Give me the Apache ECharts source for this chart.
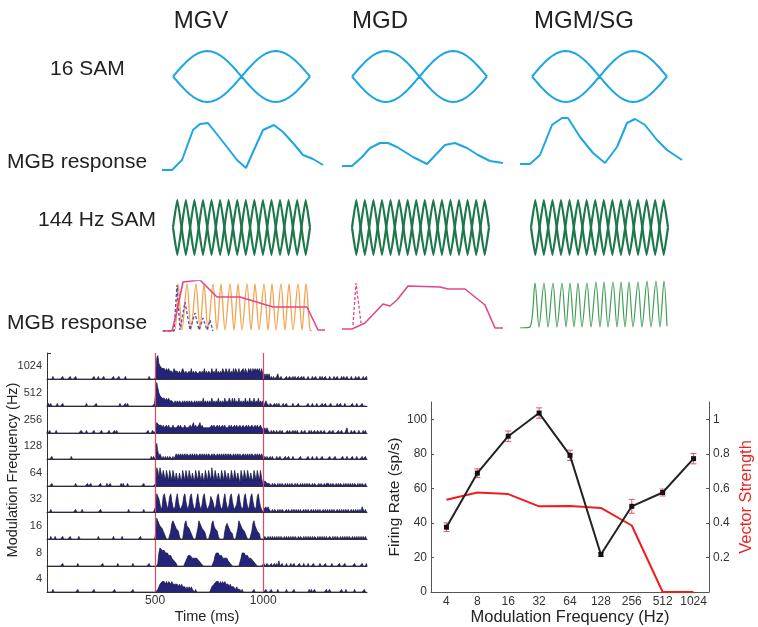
<!DOCTYPE html>
<html><head><meta charset="utf-8">
<script src="https://cdn.jsdelivr.net/npm/echarts@6/dist/echarts.min.js"></script>
<style>html,body{margin:0;padding:0;background:#fff}#c{width:758px;height:627px}</style>
</head><body><div id="c"></div>
<script>
// ---------- labels ----------
const columnTitles = ['MGV', 'MGD', 'MGM/SG'];
const rowLabels = ['16 SAM', 'MGB response', '144 Hz SAM', 'MGB response'];
const modFreqs = ['4', '8', '16', '32', '64', '128', '256', '512', '1024'];

// ---------- schematic waveforms ----------
const sam16Env = [0,.195,.383,.556,.707,.831,.924,.981,1,.981,.924,.831,.707,.556,.383,.195,0,
                  .195,.383,.556,.707,.831,.924,.981,1,.981,.924,.831,.707,.556,.383,.195,0];
const sam16EnvLow = [0,-.195,-.383,-.556,-.707,-.831,-.924,-.981,-1,-.981,-.924,-.831,-.707,-.556,-.383,-.195,0,
                  -.195,-.383,-.556,-.707,-.831,-.924,-.981,-1,-.981,-.924,-.831,-.707,-.556,-.383,-.195,0];
const sam144A = [[0,0],[0.5,1],[1.5,-1],[2.5,1],[3.5,-1],[4.5,1],[5.5,-1],[6.5,1],[7.5,-1],[8.5,1],[9.5,-1],[10.5,1],[11.5,-1],[12.5,1],[13.5,-1],[14.5,1],[15.5,-1],[16,0]];
const sam144B = [[0,0],[0.5,-1],[1.5,1],[2.5,-1],[3.5,1],[4.5,-1],[5.5,1],[6.5,-1],[7.5,1],[8.5,-1],[9.5,1],[10.5,-1],[11.5,1],[12.5,-1],[13.5,1],[14.5,-1],[15.5,1],[16,0]];
const resp16MGV = [[0,0],[10,0],[20,10],[31,40],[38,46],[46,47],[65,23],[75,10],[84,2],[91,18],[101,40],[112,45],[121,38],[131,27],[141,15],[151,11],[161,5]];
const resp16MGD = [[0,0],[10,0],[20,9],[28,18],[38,23],[46,23],[55,19],[71,9],[85,2],[103,21],[113,23],[125,18],[136,11],[148,5],[161,3]];
const resp16MGM = [[0,0],[10,0],[20,9],[32,39],[42,46],[48,46],[60,27],[73,11],[85,1],[97,17],[107,41],[115,45],[125,39],[137,24],[147,14],[162,4]];
const resp144MGVcycle = [[0,0],[12,0],[16,47],[20,1],[25,47],[29,1],[34,47],[38,1],[42,47],[46,1],[51,47],[55,1],[59,47],[63,1],[68,47],[72,1],[76,47],[80,1],[85,47],[89,1],[93,47],[97,1],[102,47],[106,1],[110,47],[114,1],[119,47],[123,1],[127,47],[131,1],[136,47],[140,1],[144,47],[148,1],[150,0]];
const resp144MGVrate = [[1,0],[10,0],[14,16],[21,49],[38,51],[55,34],[78,34],[111,24],[145,24],[156,1],[163,1]];
const resp144MGVonset = [[1,0],[12,0],[15,46],[18,1],[23,29],[28,1],[33,18],[37,1],[41,13],[45,1],[48,11],[51,0]];
const resp144MGDrate = [[0,1],[10,1],[23,7],[41,26],[48,24],[55,30],[66,44],[98,43],[106,41],[123,41],[143,25],[153,2],[161,2]];
const resp144MGDonset = [[11,5],[14,47],[16,47],[19,7]];
const resp144MGM = [[0,0],[10,1],[15,45],[19,1],[24,45],[28,1],[33,45],[37,1],[42,45],[46,1],[50,45],[54,1],[58,45],[62,1],[67,45],[71,1],[76,46],[80,1],[84,46],[88,1],[93,46],[97,1],[101,46],[105,1],[109,46],[113,1],[118,46],[122,1],[127,47],[131,1],[136,47],[140,1],[144,47],[147,2]];

// ---------- PSTH rows: 5 ms bins, segments 0-500 / 500-1000 / 1000-1480 ms ----------
const psth1024 = [
 '0000010000 0000100000 0100001000 0000000000 0001000100 0010000000 0100001000 0010000000 0000000000 0000100000',
 '1896554443 4343332433 3232343232 2324232332 2323242323 3242324232 3243243242 3242432423 3424324342 4343434242',
 '0212120101 0012001000 0100100101 0010010100 0100010010 0010100100 0100010010 0010100100 0100010010 001001'];
const psth512 = [
 '0101000001 0000100000 0000000000 0000001000 0000010000 0000000000 0000000100 0010100000 0000000000 0000000001',
 '1975443332 3232222121 2122121212 1212212121 2121312121 2131212131 2121312132 1313121312 1213121312 1312131212',
 '0121101100 1010100010 0100000100 0010000000 0100010001 0000100100 0010000010 0100010000 0010001000 010000'];
const psth256 = [
 '1010000010 0000000000 0000000000 0110001000 0001000000 1000000100 0010100000 0000000000 0000000000 0001000110',
 '1443332322 3232223222 2323222322 2232242322 3423222222 2232322323 2232322232 3223232232 2322323223 3232322322',
 '1212110101 1010010100 0010100101 0100010010 0010100100 1001001000 0100100001 0010000200 0100100010 001010'];
const psth128 = [
 '0000100000 0000000000 0010000000 0000000000 0000000000 0000000000 0000000000 0000000000 0000000000 0000001010',
 '1631210101 0101101012 1212121212 2121212121 1212121212 2121221212 1212121212 2121212121 1212121212 2121212121',
 '0101001010 0010010000 1001000100 0000100000 0100010001 0000100000 0100001000 0001000100 0010001000 010010'];
const psth64 = [
 '0000100000 0000000000 0000001000 0000000100 1000000001 0000010010 0000000010 1000100000 0000000001 0000000000',
 '1763753642 6426426425 3253264264 2642532642 6425326426 4274264253 2642642532 6426425316 4264264253 2642642631',
 '0221111010 1101010110 1010101101 0110101010 1011010110 0101101011 1010110101 0110101010 1010110101 011010'];
const psth32 = [
 '0001000000 0000000000 0000001000 0010000000 0000000001 0000000000 0000000000 0000010000 0000000001 0000000000',
 '277531 267531 367421 2574211 367421 367421 257421 3674211 366421 367421 257421 3674211 367421 267421 367421 267421 0',
 '1121211010 1101010110 0101001010 1010100101 0100101010 1010010101 0101010010 1010101010 0101010101 021010'];
const psth16 = [
 '0001000100 0000100000 0100000001 0000000000 0000000100 0000000000 0100000001 0000000000 0000001000 0000000000',
 '2876554321000 036765443100 0367554321000 047654432000 0367544310000 035654332000 0476544321000 036754332000',
 '0110101010 1010101101 0101010101 1010110101 0101010110 1010101010 0110101011 0101010101 1010101010 101010'];
const psth8 = [
 '0000000000 0000100000 0000000010 0000000000 0000000000 0100000000 0000010000 0000000001 0000000000 0000100000',
 '001 57766655544433221 00000000 23444433333322110 000000000 24555444333332211 00000000 35554443333221100 0000',
 '1101100100 1010200100 0100010010 0001000100 0100001000 0010000100 0001000000 1000010000 0000100000 010001'];
const psth4 = [
 '0000010000 0000000000 0000000010 0000000000 0001000000 0000000000 0010000000 0000000001 0000000000 0000000000',
 '001 233444343443433333232322212121211 010000000000000 122334443434343332322221211 1010000000000100000000',
 '0010000100 0001000000 0100000010 0000000000 0010100100 0000000010 0100000000 0010001000 0000100000 000100'];
const psthRows = [psth1024, psth512, psth256, psth128, psth64, psth32, psth16, psth8, psth4];
const psthRowLabels = ['1024', '512', '256', '128', '64', '32', '16', '8', '4'];

// ---------- tuning curves ----------
const firingRate = [37.5, 68.8, 90.2, 103.6, 79.1, 21.7, 49.6, 57.6, 77.2];
const firingErr  = [2.5, 2.5, 3, 3, 3, 1.2, 4, 2, 3];
const vectorStrength = [0.534, 0.576, 0.567, 0.496, 0.498, 0.487, 0.385, 0, 0];

// ================= build =================
const FONT = 'Liberation Sans, Arial, Helvetica, sans-serif';
const grids = [], xAxes = [], yAxes = [], series = [];
function hiddenCell(g, xr, yr) {
  grids.push(g);
  const i = grids.length - 1;
  xAxes.push({gridIndex: i, type: 'value', show: false, min: xr[0], max: xr[1]});
  yAxes.push({gridIndex: i, type: 'value', show: false, min: yr[0], max: yr[1]});
  return i;
}
function line(i, data, color, width, extra) {
  series.push(Object.assign({type: 'line', xAxisIndex: i, yAxisIndex: i, data: data, symbol: 'none',
    lineStyle: {color: color, width: width}, silent: true}, extra || {}));
}
const BLUE = '#1ea6e2', DKGREEN = '#1c774a', LTGREEN = '#3f9c55', ORANGE = '#f5a24e', PINK = '#e2458a', PURPLE = '#5a4bb0';
const idx = a => a.map((v, k) => [k, v]);

// row 1: 16 SAM
[[173,137],[352,135],[532,135]].forEach(([l,w]) => {
  const i = hiddenCell({left: l, width: w, top: 51, height: 51}, [0, 32], [-1, 1]);
  line(i, idx(sam16Env), BLUE, 2);
  line(i, idx(sam16EnvLow), BLUE, 2);
});
// row 2: responses to 16 SAM
[[162,161,120,resp16MGV],[342,161,116,resp16MGD],[520,162,114,resp16MGM]].forEach(([l,w,t,d]) => {
  const i = hiddenCell({left: l, width: w, top: t, height: 50}, [0, w], [0, 50]);
  line(i, d, BLUE, 2);
});
// row 3: 144 Hz SAM
[[173,137],[352,137],[531,137]].forEach(([l,w]) => {
  const i = hiddenCell({left: l, width: w, top: 200, height: 55}, [0, 16], [-1, 1]);
  line(i, sam144A, DKGREEN, 2.2, {smooth: 0.12});
  line(i, sam144B, DKGREEN, 2.2, {smooth: 0.12});
});
// row 4: responses to 144 Hz SAM
{
  let i = hiddenCell({left: 162, width: 164, top: 281, height: 50}, [0, 164], [0, 50]);
  line(i, resp144MGVcycle, ORANGE, 1.3, {smooth: 0.3});
  line(i, resp144MGVonset, PURPLE, 1.3, {lineStyle: {color: PURPLE, width: 1.3, type: [3, 2]}});
  line(i, resp144MGVrate, PINK, 1.6);
  i = hiddenCell({left: 342, width: 161, top: 280, height: 50}, [0, 161], [0, 50]);
  line(i, resp144MGDonset, PINK, 1.3, {lineStyle: {color: PINK, width: 1.3, type: [3, 2]}});
  line(i, resp144MGDrate, PINK, 1.6);
  i = hiddenCell({left: 520, width: 150, top: 278, height: 50}, [0, 150], [0, 50]);
  line(i, resp144MGM, LTGREEN, 1.2, {smooth: 0.3});
}

// PSTH rows
function decode(row) {
  const out = [[0, 0]];
  const starts = [0, 500, 1000];
  row.forEach((seg, si) => {
    const s = seg.replace(/\s/g, '');
    for (let k = 0; k < s.length; k++) out.push([starts[si] + k * 5 + 2.5, +s[k]]);
  });
  out.push([1480, 0]);
  return out;
}
const rowBase = [379, 406, 433, 459, 486, 512, 539, 566, 592];
psthRows.forEach((row, r) => {
  grids.push({left: 47, width: 320, top: rowBase[r] - 26, height: 26});
  const i = grids.length - 1;
  const last = r === psthRows.length - 1;
  xAxes.push({gridIndex: i, type: 'value', min: 0, max: 1480, interval: 500,
    axisLine: {show: true, lineStyle: {color: '#333', width: 1}},
    axisTick: {show: false}, splitLine: {show: false},
    axisLabel: last ? {show: true, customValues: [500, 1000], formatter: v => String(Math.round(v)),
      color: '#333', fontSize: 12, margin: 3, fontFamily: FONT} : {show: false},
    name: last ? 'Time (ms)' : '', nameLocation: 'middle', nameGap: 17,
    nameTextStyle: {fontSize: 14.5, color: '#222', fontFamily: FONT}});
  yAxes.push({gridIndex: i, type: 'value', min: 0, max: 10,
    axisLine: {show: true, lineStyle: {color: '#333', width: 1}},
    axisTick: r === 0 ? {show: true, inside: true, length: 4, customValues: [10], lineStyle: {color: '#333'}} : {show: false},
    axisLabel: {show: false}, splitLine: {show: false},
    name: psthRowLabels[r], nameLocation: 'middle', nameRotate: 0, nameGap: 5,
    nameTextStyle: {fontSize: 11, color: '#333', fontFamily: FONT, padding: [6, 0, 0, 0]}});
  series.push({type: 'line', xAxisIndex: i, yAxisIndex: i, data: decode(row), symbol: 'none', silent: true,
    lineStyle: {color: '#15153a', width: 0.7}, areaStyle: {color: '#24247a', opacity: 1},
    markLine: {silent: true, symbol: 'none', label: {show: false},
      lineStyle: {color: '#e5485f', width: 1.2, type: 'solid'},
      data: [{xAxis: 500}, {xAxis: 1000}]}});
});

// tuning curve panel
grids.push({left: 431, right: 49, top: 402, bottom: 35});
const g = grids.length - 1;
xAxes.push({gridIndex: g, type: 'category', data: modFreqs, boundaryGap: true,
  axisLine: {lineStyle: {color: '#555'}},
  axisTick: {inside: true, alignWithLabel: true, length: 3, interval: 0, lineStyle: {color: '#555'}},
  axisLabel: {interval: 0, color: '#333', fontSize: 12, margin: 4, fontFamily: FONT},
  name: 'Modulation Frequency (Hz)', nameLocation: 'middle', nameGap: 17,
  nameTextStyle: {fontSize: 16.5, color: '#222', fontFamily: FONT}});
const ylIndex = yAxes.length;
yAxes.push({gridIndex: g, type: 'value', min: 0, max: 110, interval: 20, position: 'left',
  axisLine: {show: true, lineStyle: {color: '#555'}},
  axisTick: {show: true, inside: true, length: 3, customValues: [0,20,40,60,80,100], lineStyle: {color: '#555'}},
  axisLabel: {customValues: [0,20,40,60,80,100], color: '#333', fontSize: 12, margin: 4, fontFamily: FONT},
  splitLine: {show: false},
  name: 'Firing Rate (sp/s)', nameLocation: 'middle', nameGap: 21,
  nameTextStyle: {fontSize: 15.5, color: '#222', fontFamily: FONT}});
yAxes.push({gridIndex: g, type: 'value', min: 0, max: 1.1, position: 'right',
  axisLine: {show: true, lineStyle: {color: '#555'}},
  axisTick: {show: true, inside: true, length: 3, customValues: [0.2,0.4,0.6,0.8,1], lineStyle: {color: '#555'}},
  axisLabel: {customValues: [0.2,0.4,0.6,0.8,1], color: '#333', fontSize: 12, margin: 4, fontFamily: FONT,
    formatter: v => (Math.abs(v - 1) < 1e-6 ? '1' : (+v).toFixed(1))},
  splitLine: {show: false},
  name: 'Vector Strength', nameLocation: 'middle', nameGap: 29,
  nameTextStyle: {fontSize: 16.5, color: '#f01e1e', fontFamily: FONT}});
const xg = xAxes.length - 1;
series.push({type: 'line', xAxisIndex: xg, yAxisIndex: ylIndex + 1, data: vectorStrength, symbol: 'none',
  lineStyle: {color: '#f21c1c', width: 2}, silent: true, z: 2});
series.push({type: 'custom', xAxisIndex: xg, yAxisIndex: ylIndex, silent: true, z: 3,
  data: firingRate.map((v, k) => [k, v - firingErr[k], v + firingErr[k]]),
  renderItem: (params, api) => {
    const lo = api.coord([api.value(0), api.value(1)]);
    const hi = api.coord([api.value(0), api.value(2)]);
    const c = '#e8506e', hw = 3;
    return {type: 'group', children: [
      {type: 'line', shape: {x1: lo[0], y1: lo[1], x2: hi[0], y2: hi[1]}, style: {stroke: c, lineWidth: 1}},
      {type: 'line', shape: {x1: lo[0]-hw, y1: lo[1], x2: lo[0]+hw, y2: lo[1]}, style: {stroke: c, lineWidth: 1}},
      {type: 'line', shape: {x1: hi[0]-hw, y1: hi[1], x2: hi[0]+hw, y2: hi[1]}, style: {stroke: c, lineWidth: 1}}]};
  }});
series.push({type: 'line', xAxisIndex: xg, yAxisIndex: ylIndex, data: firingRate, symbol: 'rect', symbolSize: 5,
  itemStyle: {color: '#111'}, lineStyle: {color: '#222', width: 2}, silent: true, z: 4});

// text
const txt = (t, x, y, size, align, rot) => ({type: 'text', x: x, y: y, rotation: rot || 0, silent: true,
  style: {text: t, fill: '#222', font: size + 'px ' + FONT, textFont: size + 'px ' + FONT,
    align: align, textAlign: align, verticalAlign: 'middle', textVerticalAlign: 'middle'}});
const graphics = [
  txt(columnTitles[0], 201, 21, 24, 'center'),
  txt(columnTitles[1], 380, 21, 24, 'center'),
  txt(columnTitles[2], 584, 21, 24, 'center'),
  txt(rowLabels[0], 50, 69, 21, 'left'),
  txt(rowLabels[1], 7, 162, 21, 'left'),
  txt(rowLabels[2], 38, 220, 21, 'left'),
  txt(rowLabels[3], 7, 323, 21, 'left'),
  txt('Modulation Frequency (Hz)', 13, 470, 14.5, 'center', Math.PI / 2)
];

const chart = echarts.init(document.getElementById('c'), null, {renderer: 'canvas'});
chart.setOption({
  animation: false,
  backgroundColor: '#fff',
  textStyle: {fontFamily: FONT},
  grid: grids, xAxis: xAxes, yAxis: yAxes, series: series,
  graphic: graphics
});
</script></body></html>
